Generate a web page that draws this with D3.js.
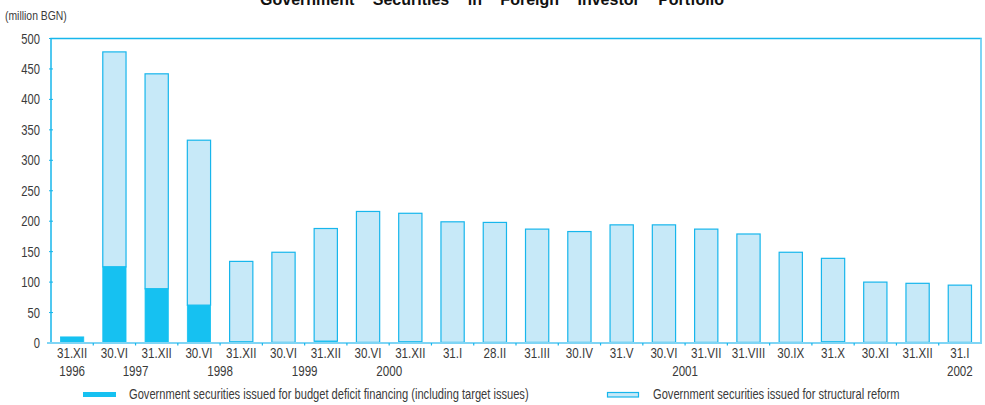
<!DOCTYPE html>
<html>
<head>
<meta charset="utf-8">
<script src="https://cdn.jsdelivr.net/npm/d3@7/dist/d3.min.js"></script>
<style>
  html, body { margin: 0; padding: 0; background: #fff; }
  svg { display: block; }
  text { font-family: "Liberation Sans", Arial, sans-serif; fill: #3a3a3a; }
</style>
</head>
<body>
<svg id="chart" width="985" height="405"></svg>
<script>
// Reporting dates (day.month in Roman numerals) and the year they belong to
const dates = ["31.XII", "30.VI", "31.XII", "30.VI", "31.XII", "30.VI", "31.XII", "30.VI", "31.XII",
  "31.I", "28.II", "31.III", "30.IV", "31.V", "30.VI", "31.VII", "31.VIII", "30.IX", "31.X", "30.XI", "31.XII", "31.I"];

// Year captions: label and the first/last date index they span
const years = [
  { label: "1996", from: 0, to: 0 },
  { label: "1997", from: 1, to: 2 },
  { label: "1998", from: 3, to: 4 },
  { label: "1999", from: 5, to: 6 },
  { label: "2000", from: 7, to: 8 },
  { label: "2001", from: 9, to: 20 },
  { label: "2002", from: 21, to: 21 }
];

// million BGN
const budgetDeficit = [10, 125, 89, 62, 2, 1, 3, 1, 2, 1, 1, 1, 1, 1, 1, 1, 1, 1, 2, 1, 1, 1];
const structuralReform = [0, 353, 353, 271, 132, 148, 185, 215, 211, 198, 197, 186, 182, 193, 193, 186, 178, 148, 137, 99, 97, 94];

const yTicks = [0, 50, 100, 150, 200, 250, 300, 350, 400, 450, 500];

const seriesNames = [
  "Government securities issued for budget deficit financing (including target issues)",
  "Government securities issued for structural reform"
];

const darkBlue = "#16c1f1";
const lightBlue = "#c7e9f8";
const lineBlue = "#17b6ec";
const axisBlue = "#7fd5f5";

// Narrow lettering: regular face squeezed horizontally around its anchor
const NARROW = 0.8;
function narrowText(sel, px, py, size, anchor) {
  return sel
    .attr("x", 0).attr("y", 0)
    .attr("transform", (d, i) => `translate(${px(d, i)},${py(d, i)}) scale(${NARROW},1)`)
    .attr("text-anchor", anchor)
    .style("font-size", size + "px");
}

const svg = d3.select("#chart");
const margin = { left: 51, right: 4, top: 38.5, bottom: 62 };
const W = 985, H = 405;

const x = d3.scaleBand()
  .domain(d3.range(dates.length))
  .range([margin.left, W - margin.right])
  .paddingInner(0.45)
  .paddingOuter(0.225);

const y = d3.scaleLinear().domain([0, 500]).range([H - margin.bottom, margin.top]);

// Title (runs off the top edge of the page)
svg.append("text")
  .attr("x", 492).attr("y", 5)
  .attr("text-anchor", "middle")
  .style("font-weight", "bold")
  .style("font-size", "16px")
  .style("word-spacing", "14px")
  .style("fill", "#111")
  .text("Government Securities in Foreign Investor Portfolio");

narrowText(svg.append("text"), () => 5, () => 20, 13, "start")
  .text("(million BGN)");

// Frame: top, left and right edges
const x0 = margin.left, x1 = W - margin.right, yTop = y(500), yBot = y(0);
svg.append("path")
  .attr("d", `M${x0},${yBot} V${yTop} H${x1} V${yBot}`)
  .attr("fill", "none")
  .attr("stroke", lineBlue)
  .attr("stroke-width", 1.5);
svg.append("line")
  .attr("x1", x1).attr("x2", x1).attr("y1", yTop).attr("y2", yBot)
  .attr("stroke", axisBlue).attr("stroke-width", 2);

// Y axis labels and ticks
const yAxis = svg.append("g")
  .attr("transform", `translate(${x0},0)`)
  .call(d3.axisLeft(y).tickValues(yTicks).tickSize(0));
yAxis.select(".domain").remove();
yAxis.selectAll(".tick text")
  .attr("x", 0).attr("dy", null)
  .attr("transform", "translate(-11,4.5) scale(" + NARROW + ",1)")
  .style("font-size", "14px").style("fill", "#3a3a3a")
  .style("font-family", "'Liberation Sans', Arial, sans-serif");
svg.append("g").selectAll("line").data(yTicks).join("line")
  .attr("x1", x0 - 2).attr("x2", x0 + 2)
  .attr("y1", d => y(d)).attr("y2", d => y(d))
  .attr("stroke", lineBlue).attr("stroke-width", 1);

// Bars: structural reform stacked above budget deficit financing
const step = x.step();
const bars = svg.append("g");
dates.forEach((d, i) => {
  const bx = x(i), bw = x.bandwidth();
  const b = budgetDeficit[i], s = structuralReform[i];
  if (s > 0) {
    bars.append("rect")
      .attr("x", bx).attr("width", bw)
      .attr("y", y(b + s)).attr("height", y(b) - y(b + s))
      .attr("fill", lightBlue)
      .attr("stroke", lineBlue).attr("stroke-width", 1.2);
  }
  bars.append("rect")
    .attr("x", bx).attr("width", bw)
    .attr("y", y(b)).attr("height", y(0) - y(b))
    .attr("fill", darkBlue)
    .attr("stroke", b > 5 ? darkBlue : "none").attr("stroke-width", 0.8);
});

// Bottom axis line and small ticks between dates
svg.append("line")
  .attr("x1", x0 - 4).attr("x2", x1 + 1)
  .attr("y1", yBot).attr("y2", yBot)
  .attr("stroke", axisBlue).attr("stroke-width", 2.2);
svg.append("g").selectAll("line").data(d3.range(1, dates.length)).join("line")
  .attr("x1", i => x(i) - (step - x.bandwidth()) / 2)
  .attr("x2", i => x(i) - (step - x.bandwidth()) / 2)
  .attr("y1", yBot).attr("y2", yBot + 2.5)
  .attr("stroke", lineBlue).attr("stroke-width", 1.2);

// Date labels
narrowText(svg.append("g").selectAll("text").data(dates).join("text"),
  (d, i) => x(i) + x.bandwidth() / 2, () => 358, 14.5, "middle")
  .text(d => d);

// Year labels centred under their dates
narrowText(svg.append("g").selectAll("text").data(years).join("text"),
  d => (x(d.from) + x(d.to) + x.bandwidth()) / 2, () => 376, 14.5, "middle")
  .text(d => d.label);

// Legend
const legend = svg.append("g");
legend.append("rect").attr("x", 83).attr("y", 392).attr("width", 33).attr("height", 5)
  .attr("fill", darkBlue);
narrowText(legend.append("text"), () => 129, () => 399, 13.9, "start").text(seriesNames[0]);
legend.append("rect").attr("x", 607.5).attr("y", 392.5).attr("width", 31).attr("height", 4.5)
  .attr("fill", lightBlue).attr("stroke", lineBlue).attr("stroke-width", 1.2);
narrowText(legend.append("text"), () => 653, () => 399, 13.9, "start").text(seriesNames[1]);
</script>
</body>
</html>
